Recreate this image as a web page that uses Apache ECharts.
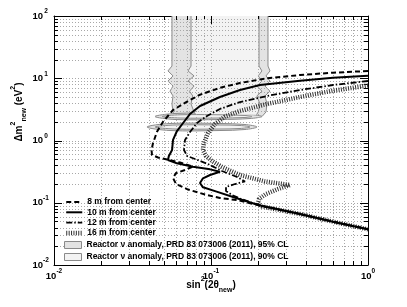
<!DOCTYPE html>
<html><head><meta charset="utf-8">
<script src="https://cdn.jsdelivr.net/npm/echarts@6/dist/echarts.min.js"></script>
<style>html,body{margin:0;padding:0;background:#fff}#c{width:407px;height:307px}</style>
</head><body><div id="c"></div>
<script>
// ---- axes ----
const xRange = [0.01, 1];
const yRange = [0.01, 100];
const xMajorTicks = [0.01, 0.1, 1];
const yMajorTicks = [0.01, 0.1, 1, 10, 100];
const xMinorTicks = [0.02,0.03,0.04,0.05,0.06,0.07,0.08,0.09,0.2,0.3,0.4,0.5,0.6,0.7,0.8,0.9];
const yMinorTicks = [0.02,0.03,0.04,0.05,0.06,0.07,0.08,0.09,0.2,0.3,0.4,0.5,0.6,0.7,0.8,0.9,
                     2,3,4,5,6,7,8,9,20,30,40,50,60,70,80,90];

// ---- sensitivity curves [sin^2(2theta), dm^2] ----
const curve8m = [[1.0,13.08],[0.598,12.28],[0.369,11.28],[0.227,9.98],[0.153,8.39],[0.114,7.02],[0.0851,5.44],[0.0704,4.20],[0.0573,3.09],[0.0495,2.005],[0.0453,1.385],[0.0427,0.902],[0.0418,0.704],[0.0421,0.585],[0.0460,0.533],[0.0525,0.495],[0.0635,0.443],[0.0768,0.382],[0.0683,0.336],[0.0599,0.300],[0.0573,0.250],[0.0599,0.200],[0.0714,0.163],[0.0916,0.1357],[0.114,0.1192],[0.146,0.1107],[0.205,0.0903],[0.369,0.0659],[0.598,0.0497],[1.0,0.0374]];
const curve10m = [[1.0,11.0],[0.598,10.2],[0.369,9.14],[0.205,7.79],[0.153,6.48],[0.114,5.0],[0.0851,3.58],[0.0734,2.66],[0.0664,1.91],[0.0607,1.42],[0.0573,1.02],[0.0565,0.703],[0.0539,0.564],[0.0532,0.486],[0.0607,0.430],[0.0767,0.380],[0.0986,0.344],[0.114,0.315],[0.0986,0.279],[0.0889,0.247],[0.0851,0.208],[0.0889,0.177],[0.1086,0.151],[0.146,0.118],[0.205,0.0903],[0.369,0.0659],[0.598,0.0497],[1.0,0.0374]];
const curve12m = [[1.0,9.03],[0.598,7.79],[0.369,6.48],[0.227,5.19],[0.153,4.15],[0.114,3.21],[0.0943,2.475],[0.0814,1.910],[0.0735,1.369],[0.0683,1.019],[0.0673,0.703],[0.0704,0.564],[0.0791,0.5045],[0.0957,0.419],[0.1175,0.3236],[0.1464,0.2593],[0.1646,0.2195],[0.1422,0.200],[0.1246,0.179],[0.1246,0.1544],[0.1361,0.1332],[0.153,0.117],[0.205,0.0903],[0.369,0.0659],[0.598,0.0497],[1.0,0.0374]];
const curve16m = [[1.0,7.65],[0.598,6.31],[0.369,5.0],[0.227,3.86],[0.153,2.978],[0.1228,2.43],[0.1060,1.841],[0.0957,1.320],[0.0902,0.912],[0.0889,0.703],[0.0929,0.564],[0.1015,0.469],[0.1175,0.375],[0.153,0.279],[0.2207,0.2195],[0.3187,0.1928],[0.2673,0.1663],[0.2240,0.1382],[0.2022,0.1149],[0.1992,0.0972],[0.2113,0.0871],[0.369,0.0659],[0.598,0.0497],[1.0,0.0374]];

// ---- reactor anomaly allowed regions ----
const band95Left  = [[0.0564,100],[0.0564,15.7],[0.0532,13.1],[0.0573,10.9],[0.0532,9.0],[0.0573,7.5],[0.0548,6.2],[0.0573,5.2],[0.0564,3.86],[0.0573,2.87],[0.0590,2.43]];
const band95Right = [[0.2307,100],[0.2307,15.7],[0.2376,13.1],[0.2240,10.9],[0.2376,9.0],[0.2207,7.5],[0.2376,6.2],[0.2207,5.2],[0.2273,3.86],[0.2240,2.87],[0.2113,2.43]];
const lobe95Upper = [[0.0440,2.43],[0.0590,2.715],[0.1141,2.74],[0.1772,2.62],[0.2113,2.43],[0.1772,2.256],[0.1141,2.174],[0.0590,2.174]];
const lobe95Lower = [[0.0391,1.648],[0.0548,1.876],[0.1141,1.876],[0.1646,1.807],[0.1963,1.648],[0.1646,1.502],[0.1141,1.447],[0.0548,1.447]];
const band90Left  = [[0.0746,100],[0.0746,15.7],[0.0714,13.1],[0.0780,10.9],[0.0714,9.0],[0.0780,7.5],[0.0730,6.2],[0.0765,5.2],[0.0746,3.86],[0.0780,2.87],[0.0800,2.6]];
const band90Right = [[0.2022,100],[0.2022,15.7],[0.2110,13.1],[0.2000,10.9],[0.2110,9.0],[0.1960,7.5],[0.2110,6.2],[0.1960,5.2],[0.2050,3.86],[0.2000,2.87],[0.1950,2.6]];
const lobe90Upper = [[0.04875,2.43],[0.0635,2.588],[0.1141,2.588],[0.1646,2.521],[0.1825,2.43],[0.1646,2.342],[0.1141,2.298],[0.0635,2.298]];
const lobe90Lower = [[0.0440,1.648],[0.0590,1.774],[0.1141,1.774],[0.1530,1.742],[0.1772,1.648],[0.1530,1.559],[0.1141,1.530],[0.0590,1.530]];

const names = ['8 m from center','10 m from center','12 m from center','16 m from center',
  'Reactor \u03bd anomaly, PRD 83 073006 (2011), 95% CL',
  'Reactor \u03bd anomaly, PRD 83 073006 (2011), 90% CL'];

const FONT = 'Liberation Sans';
const fill95 = '#e3e3e3', fill90 = '#f3f3f3', edge = '#8a8a8a';

function regionSeries(name, band, lobes, fill, z) {
  const items = [{kind:'band', left: band[0], right: band[1]}].concat(lobes.map(l => ({kind:'lobe', pts:l})));
  return {
    name, type:'custom', z, silent:true, itemStyle:{color:fill, borderColor:edge},
    data: items.map(it => it.kind === 'band' ? it.left[0] : it.pts[0]),
    renderItem: function(params, api) {
      const it = items[params.dataIndex];
      if (it.kind === 'band') {
        const L = it.left.map(p => api.coord(p));
        const R = it.right.map(p => api.coord(p));
        return {type:'group', children:[
          {type:'polygon', shape:{points: L.concat(R.slice().reverse())}, style:{fill, stroke:null}},
          {type:'polyline', shape:{points:L}, style:{fill:null, stroke:edge, lineWidth:1}},
          {type:'polyline', shape:{points:R}, style:{fill:null, stroke:edge, lineWidth:1}}
        ]};
      }
      return {type:'polygon', shape:{points: it.pts.map(p => api.coord(p)), smooth:0.35},
              style:{fill, stroke:edge, lineWidth:1}};
    }
  };
}

function gridSeries(values, vertical) {
  const majors = vertical ? xMajorTicks : yMajorTicks;
  return {
    type:'custom', z:3, silent:true,
    data: values.map(v => vertical ? [v, 1] : [0.1, v]),
    renderItem: function(params, api) {
      const v = api.value(vertical ? 0 : 1);
      const len = majors.indexOf(v) >= 0 ? 8 : 4;
      const a = vertical ? api.coord([v, yRange[0]]) : api.coord([xRange[0], v]);
      const b = vertical ? api.coord([v, yRange[1]]) : api.coord([xRange[1], v]);
      const lineStyle = {stroke:'#a8a8a8', lineWidth:1, lineDash:[1,2]};
      const tick = {stroke:'#000', lineWidth:1};
      if (vertical) {
        const x = Math.round(a[0]) + 0.5;
        return {type:'group', children:[
          {type:'line', shape:{x1:x, y1:a[1], x2:x, y2:b[1]}, style:lineStyle},
          {type:'line', shape:{x1:x, y1:a[1], x2:x, y2:a[1]-len}, style:tick},
          {type:'line', shape:{x1:x, y1:b[1], x2:x, y2:b[1]+len}, style:tick}
        ]};
      }
      const y = Math.round(a[1]) + 0.5;
      return {type:'group', children:[
        {type:'line', shape:{x1:a[0], y1:y, x2:b[0], y2:y}, style:lineStyle},
        {type:'line', shape:{x1:a[0], y1:y, x2:a[0]+len, y2:y}, style:tick},
        {type:'line', shape:{x1:b[0], y1:y, x2:b[0]-len, y2:y}, style:tick}
      ]};
    }
  };
}

function lineSeries(name, data, ls) {
  return {name, type:'line', data, symbol:'none', showSymbol:false, z:5, silent:true,
          lineStyle:ls, itemStyle:{color:ls.color}};
}

const expFmt = v => '{b|10}{e|' + Math.round(Math.log10(v)) + '}';
const richBase = {fontFamily:FONT, fontWeight:'bold', color:'#000'};
const xRich = {b:Object.assign({fontSize:9.5, lineHeight:16}, richBase),
               e:Object.assign({fontSize:6.5, lineHeight:6, verticalAlign:'top'}, richBase)};
const yRich = {b:Object.assign({fontSize:9.5, lineHeight:16}, richBase),
               e:Object.assign({fontSize:6.5, lineHeight:6, verticalAlign:'top', width:6, align:'left'}, richBase)};

function axis(base, pos, label) {
  const o = {type:'log', logBase:10, min:base[0], max:base[1], interval:1, position:pos,
    axisLine:{show:true, onZero:false, lineStyle:{color:'#000', width:1}},
    axisTick:{show:false}, splitLine:{show:false}, minorTick:{show:false}, minorSplitLine:{show:false},
    axisLabel:{show:false}};
  if (label) o.axisLabel = label;
  return o;
}

const option = {
  animation:false,
  backgroundColor:'#fff',
  grid:{left:54, right:39, top:16, bottom:42},
  xAxis:[
    axis(xRange, 'bottom', {show:true, margin:3, formatter:expFmt, rich:xRich, showMinLabel:true, showMaxLabel:true}),
    axis(xRange, 'top', null)
  ],
  yAxis:[
    axis(yRange, 'left', {show:true, margin:5, formatter:expFmt, rich:yRich, showMinLabel:true, showMaxLabel:true}),
    axis(yRange, 'right', null)
  ],
  legend:[
    {orient:'vertical', left:59, top:192, itemWidth:16, itemHeight:10, itemGap:0.3, selectedMode:false,
     itemStyle:{opacity:0}, lineStyle:{width:'inherit'},
     data:names.slice(0,4), textStyle:{fontFamily:FONT, fontWeight:'bold', fontSize:8.5, color:'#000', lineHeight:10}},
    {orient:'vertical', left:59, top:234, itemWidth:17, itemHeight:7, itemGap:0, selectedMode:false,
     data:[{name:names[4], icon:'rect', itemStyle:{color:fill95, borderColor:edge, borderWidth:1}},
           {name:names[5], icon:'rect', itemStyle:{color:fill90, borderColor:edge, borderWidth:1}}],
     textStyle:{fontFamily:FONT, fontWeight:'bold', fontSize:8.5, color:'#000', lineHeight:12}}
  ],
  graphic:[
    {type:'text', x:211, y:285, z:10, style:{
      text:'{m|sin}{p|2}{m|(2\u03b8}{s|new}{m|)}', align:'center', verticalAlign:'middle',
      textAlign:'center', textVerticalAlign:'middle',
      rich:{m:Object.assign({fontSize:10, lineHeight:18}, richBase),
            p:Object.assign({fontSize:7, lineHeight:8, verticalAlign:'top'}, richBase),
            s:Object.assign({fontSize:7, lineHeight:6, verticalAlign:'bottom'}, richBase)}}},
    {type:'text', x:19, y:112, rotation:Math.PI/2, z:10, style:{
      text:'{m|\u0394m}{p|2}{s|new}{m| (eV}{p|2}{m|)}', align:'center', verticalAlign:'middle',
      textAlign:'center', textVerticalAlign:'middle',
      rich:{m:Object.assign({fontSize:10, lineHeight:18}, richBase),
            p:Object.assign({fontSize:7, lineHeight:8, verticalAlign:'top'}, richBase),
            s:Object.assign({fontSize:7, lineHeight:6, verticalAlign:'bottom'}, richBase)}}}
  ],
  series:[
    regionSeries(names[4], [band95Left, band95Right], [lobe95Upper, lobe95Lower], fill95, 1),
    regionSeries(names[5], [band90Left, band90Right], [lobe90Upper, lobe90Lower], fill90, 2),
    gridSeries(xMinorTicks.concat([0.1]), true),
    gridSeries(yMinorTicks.concat([0.1, 1, 10]), false),
    lineSeries(names[3], curve16m, {color:'#333', width:4.5, type:[1,1.4]}),
    lineSeries(names[2], curve12m, {color:'#000', width:1.8, type:[6,2,1.5,2]}),
    lineSeries(names[1], curve10m, {color:'#000', width:2, type:'solid'}),
    lineSeries(names[0], curve8m, {color:'#000', width:2, type:[5,3]})
  ]
};
const chart = echarts.init(document.getElementById('c'));
chart.setOption(option);
</script>
</body></html>
